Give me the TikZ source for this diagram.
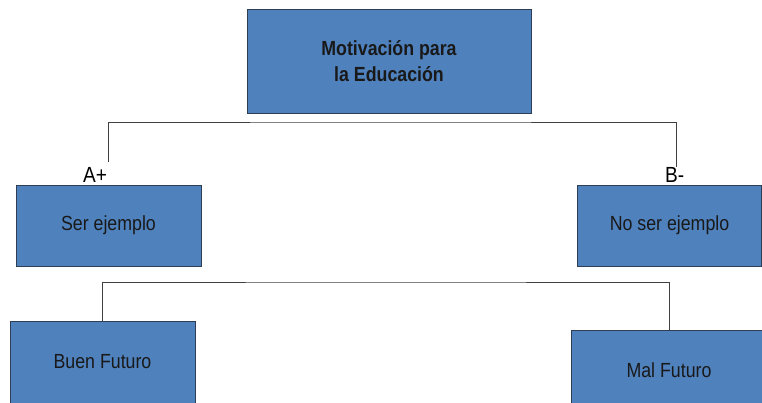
\documentclass[tikz,border=0pt]{standalone}
\usepackage{fontspec}
\setmainfont{Liberation Sans}
\usepackage{xcolor}
\usepackage{graphicx}
\usetikzlibrary{positioning,calc}
\definecolor{boxblue}{HTML}{4F81BD}
\definecolor{boxedge}{HTML}{2E3F55}
\newcommand{\sq}[1]{\scalebox{0.87}[1]{#1}}
\begin{document}
\begin{tikzpicture}[x=1bp,y=-1bp,
  bx/.style={draw=boxedge,line width=0.9bp,fill=boxblue,inner sep=0pt,font=\fontsize{20.5}{25}\selectfont,text=black!90},
  lb/.style={inner sep=0pt,font=\fontsize{22}{22}\selectfont,anchor=base west}]
  \useasboundingbox (0,0) rectangle (762,402);
  \node[bx,minimum width=284bp,minimum height=104bp,align=center,font=\bfseries\fontsize{20.5}{26}\selectfont] (mot) at (389,61) {\sq{Motivación para}\\ \sq{la Educación}};
  \node[bx,minimum width=185bp,minimum height=81bp] (ser) at (108.5,225.5) {\sq{Ser ejemplo}};
  \node[bx,minimum width=184bp,minimum height=81bp] (noser) at (669.5,225.5) {\sq{No ser ejemplo}};
  \node[bx,minimum width=185bp,minimum height=82bp] (buen) at (102.5,362) {\sq{Buen Futuro}};
  \node[bx,minimum width=196bp,minimum height=80bp] (mal) at (669,370) {\sq{Mal Futuro}};
  \node[lb] (ap) at (83,182) {\sq{A+}};
  \node[lb] (bm) at (665,182) {\sq{B-}};
  \coordinate (ta) at (108,162);
  \coordinate (tb) at (676,167);
  \coordinate (topbar) at (389,122);
  \coordinate (botbar) at (386,282);
  \draw[black!75,line width=0.9bp] (ta) |- (topbar) -| (tb);
  \draw[black!75,line width=0.9bp] (buen.north) |- (botbar) -| (mal.north);
\end{tikzpicture}
\end{document}
